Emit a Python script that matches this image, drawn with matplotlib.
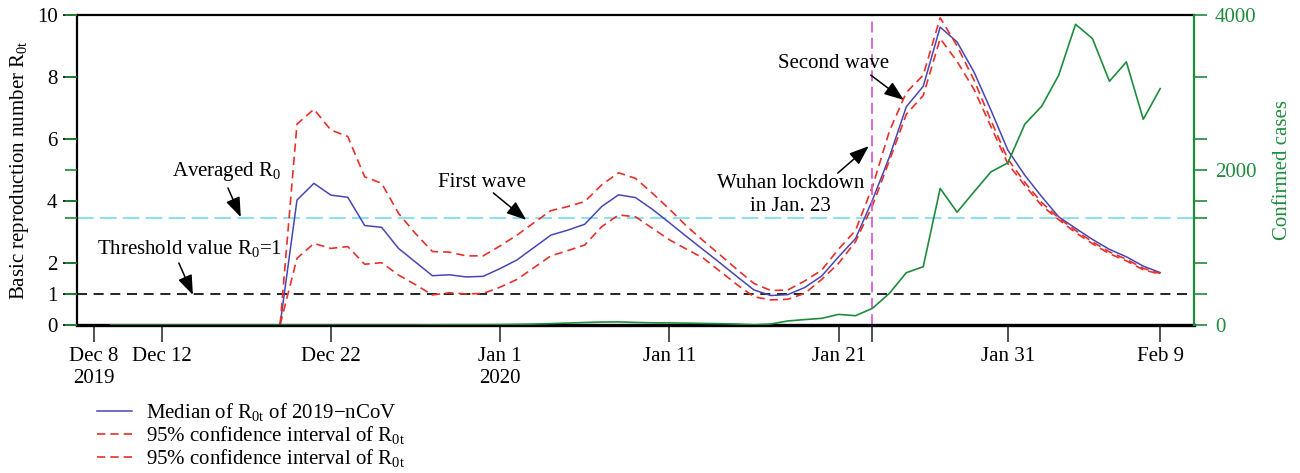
import numpy as np
import matplotlib
matplotlib.use('Agg')
import matplotlib.pyplot as plt
import matplotlib.dates as mdates

plt.rcParams['font.family'] = ['Liberation Serif', 'DejaVu Serif']
plt.rcParams['mathtext.fontset'] = 'custom'
plt.rcParams['mathtext.rm'] = 'Liberation Serif'
plt.rcParams['mathtext.it'] = 'Liberation Serif:italic'
plt.rcParams['font.size'] = 15

# daily values, Dec 8 2019 .. Feb 9 2020
dates = np.arange(np.datetime64('2019-12-08'), np.datetime64('2020-02-10'))
median = [0, 0, 0, 0, 0, 0, 0, 0, 0, 0, 0, 0,
          4.03, 4.57, 4.19, 4.12, 3.21, 3.15, 2.47, 2.03, 1.59, 1.62,
          1.55, 1.57, 1.82, 2.10, 2.50, 2.90, 3.06, 3.25, 3.82, 4.20,
          4.11, 3.73, 3.30, 2.86, 2.43, 2.00, 1.56, 1.13, 0.95, 0.98,
          1.21, 1.58, 2.20, 2.79, 4.03, 5.42, 7.04, 7.70, 9.61, 9.13,
          8.16, 6.93, 5.64, 4.83, 4.14, 3.49, 3.12, 2.76, 2.44, 2.20,
          1.90, 1.69]
upper = [0, 0, 0, 0, 0, 0, 0, 0, 0, 0, 0, 0,
         6.48, 6.96, 6.29, 6.08, 4.78, 4.57, 3.60, 2.95, 2.37, 2.35,
         2.23, 2.23, 2.55, 2.90, 3.30, 3.69, 3.82, 3.98, 4.52, 4.91,
         4.73, 4.25, 3.74, 3.20, 2.72, 2.26, 1.79, 1.34, 1.11, 1.13,
         1.42, 1.77, 2.45, 3.05, 4.46, 6.25, 7.50, 8.06, 9.91, 9.00,
         7.90, 6.60, 5.35, 4.60, 3.95, 3.45, 3.05, 2.68, 2.36, 2.12,
         1.83, 1.66]
lower = [0, 0, 0, 0, 0, 0, 0, 0, 0, 0, 0, 0,
         2.15, 2.63, 2.47, 2.53, 1.96, 2.01, 1.61, 1.30, 0.97, 1.04,
         1.00, 1.02, 1.22, 1.47, 1.85, 2.23, 2.40, 2.58, 3.17, 3.55,
         3.49, 3.12, 2.75, 2.45, 2.16, 1.73, 1.30, 0.91, 0.81, 0.83,
         1.02, 1.47, 1.99, 2.69, 3.85, 5.30, 6.80, 7.40, 9.24, 8.50,
         7.60, 6.40, 5.20, 4.50, 3.85, 3.40, 2.98, 2.62, 2.30, 2.07,
         1.78, 1.64]

# confirmed cases, Dec 9 .. Feb 9
case_dates = dates[1:]
cases = [0, 0, 0, 0, 0, 0, 0, 0, 0, 0, 0, 0, 0, 0, 0, 0, 0, 0, 0,
         2, 3, 3, 4, 5, 8, 12, 18, 25, 32, 38, 40, 33, 28, 27, 24, 20,
         17, 12, 2, 13, 52, 70, 86, 137, 120, 215, 408, 675, 752, 1762,
         1456, 1718, 1976, 2092, 2591, 2823, 3222, 3880, 3695, 3145,
         3394, 2655, 3050]

avg_r0 = 3.44
threshold = 1.0
lockdown = np.datetime64('2020-01-23')

tick_dates = ['2019-12-08', '2019-12-12', '2019-12-22', '2020-01-01',
              '2020-01-11', '2020-01-21', '2020-01-23', '2020-01-31',
              '2020-02-09']
tick_labels = ['Dec 8\n2019', 'Dec 12', 'Dec 22', 'Jan 1\n2020', 'Jan 11',
               'Jan 21', '', 'Jan 31', 'Feb 9']

blue = '#4646b4'
red = '#e8302a'
green = '#1f8c3d'
cyan = '#8ee0ea'
magenta = '#d45fd2'

fig = plt.figure(figsize=(13, 4.73), dpi=100)
ax = fig.add_axes([0.0592, 0.3129, 0.8593, 0.6554])

ax.axhline(avg_r0, color=cyan, ls=(0, (8, 3)), lw=1.5)
ax.axhline(threshold, color='k', ls=(0, (6, 4)), lw=1.2)
ax.plot(dates, median, color=blue, lw=1.1,
        label='Median of R$_{\\mathrm{0t}}$ of 2019\u2212nCoV')
ax.plot(dates, upper, color=red, lw=1.2, ls=(0, (5, 3)),
        label='95% confidence interval of R$_{\\mathrm{0t}}$')
ax.plot(dates, lower, color=red, lw=1.2, ls=(0, (5, 3)),
        label='95% confidence interval of R$_{\\mathrm{0t}}$')
ax.axvline(lockdown, color=magenta, ls=(0, (6, 3)), lw=1.3)

ax.set_xlim(np.datetime64('2019-12-07'), np.datetime64('2020-02-11'))
ax.set_ylim(0, 10)
ax.set_yticks([0, 1, 2, 4, 6, 8, 10])
ax.set_xticks([mdates.date2num(np.datetime64(d)) for d in tick_dates])
ax.set_xticklabels(tick_labels)
ax.tick_params(axis='x', direction='out', length=12, width=1.2,
               color='#333333', pad=4)
ax.tick_params(axis='y', direction='out', length=10, width=1.2, pad=4)
ax.set_ylabel('Basic reproduction number R$_{\\mathrm{0t}}$', labelpad=4)
for s in ['left', 'top']:
    ax.spines[s].set_linewidth(1.6)
ax.spines['bottom'].set_linewidth(2.4)
ax.spines['right'].set_visible(False)

ax2 = ax.twinx()
ax2.plot(case_dates, cases, color=green, lw=1.2)
ax2.set_ylim(0, 4000)
ax2.set_yticks([0, 400, 800, 1376, 1600, 2000, 2400, 3200, 4000])
ax2.set_yticklabels(['0', '', '', '', '', '2000', '', '', '4000'])
ax2.tick_params(axis='y', direction='out', length=9, width=1.2,
                colors=green, left=True, pad=6)
ax2.set_ylabel('Confirmed cases', color=green, labelpad=12)
for s in ['left', 'top', 'bottom']:
    ax2.spines[s].set_visible(False)
ax2.spines['right'].set_color(green)
ax2.spines['right'].set_linewidth(1.6)

# annotations
d0 = mdates.date2num(np.datetime64('2019-12-08'))
arrow = dict(arrowstyle='-|>,head_length=0.8,head_width=0.3', color='k',
             lw=1.1, shrinkA=0, shrinkB=0, mutation_scale=15)

ax.text(d0 + 7.86, 4.94, 'Averaged R$_0$', ha='center', va='center')
ax.annotate('', xy=(d0 + 8.68, 3.48), xytext=(d0 + 7.92, 4.42), arrowprops=arrow)

ax.text(d0 + 0.16, 2.48, 'Threshold value R$_0$=1', ha='left', va='center')
ax.annotate('', xy=(d0 + 5.85, 0.97), xytext=(d0 + 5.02, 2.0), arrowprops=arrow)

ax.text(d0 + 22.94, 4.61, 'First wave', ha='center', va='center')
ax.annotate('', xy=(d0 + 25.54, 3.39), xytext=(d0 + 23.6, 4.26), arrowprops=arrow)

ax.text(d0 + 41.16, 4.19, 'Wuhan lockdown\nin Jan. 23', ha='center',
        va='center', linespacing=1.3)
ax.annotate('', xy=(d0 + 45.78, 5.77), xytext=(d0 + 43.95, 4.9), arrowprops=arrow)

ax.text(d0 + 43.7, 8.45, 'Second wave', ha='center', va='center')
ax.annotate('', xy=(d0 + 47.85, 7.26), xytext=(d0 + 45.9, 8.06), arrowprops=arrow)

ax.legend(loc='upper left', bbox_to_anchor=(97 / 1300, 1 - 401 / 473),
          bbox_transform=fig.transFigure, frameon=False, borderpad=0,
          borderaxespad=0, handlelength=1.7, handletextpad=0.65,
          labelspacing=0.05)

fig.savefig('out.png', dpi=100)
